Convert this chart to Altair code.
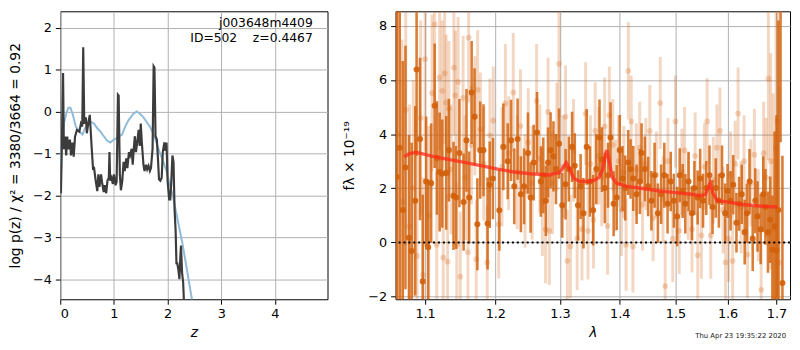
import altair as alt
import pandas as pd

# ---------------- left panel: log p(z) ----------------
pz_z = [0.000, 0.012, 0.030, 0.052, 0.067, 0.090, 0.110, 0.130, 0.150, 0.180,
        0.200, 0.226, 0.250, 0.275, 0.310, 0.355, 0.385, 0.410, 0.428, 0.447,
        0.477, 0.495, 0.520, 0.550, 0.580, 0.610, 0.630, 0.660, 0.690, 0.710,
        0.730, 0.760, 0.780, 0.810, 0.830, 0.856, 0.880, 0.905, 0.917, 0.930,
        0.955, 0.980, 1.000, 1.030, 1.050, 1.075, 1.088, 1.110, 1.130, 1.156,
        1.180, 1.200, 1.230, 1.250, 1.280, 1.300, 1.330, 1.350, 1.370, 1.390,
        1.410, 1.440, 1.460, 1.480, 1.500, 1.520, 1.550, 1.570, 1.600, 1.620,
        1.645, 1.670, 1.690, 1.720, 1.740, 1.755, 1.775, 1.800, 1.820, 1.840,
        1.865, 1.890, 1.910, 1.940, 1.960, 1.980, 2.000, 2.030, 2.050, 2.070,
        2.090, 2.110, 2.130, 2.150, 2.165, 2.180, 2.200, 2.220, 2.240, 2.250,
        2.270, 2.290, 2.310]
pz_logp = [-1.75, -1.95, -0.80, 0.92, -0.90, -0.60, -1.05, -0.60, -0.90, -0.67,
           -1.05, -0.74, -1.08, -0.60, -0.44, -0.48, -0.29, -0.36, 1.53, -0.29,
           -0.14, -0.52, -0.29, -0.08, -0.75, -1.36, -1.35, -1.65, -1.90, -1.50,
           -1.80, -1.50, -1.70, -1.92, -1.76, -1.95, -1.65, -1.58, -0.97, -1.65,
           -1.58, -1.73, -1.50, -1.76, -1.68, 0.40, 0.38, -1.50, -1.88, -1.65,
           -1.20, -1.42, -1.12, -1.35, -0.97, -1.05, -0.89, -1.27, -0.89, -0.59,
           -0.97, -0.67, -0.44, -0.82, -0.29, -0.74, -1.27, -1.42, -1.27, -1.38,
           -1.30, -1.42, -1.35, -0.89, 1.08, 1.05, -0.59, -0.67, -1.12, -1.62,
           -1.65, -1.58, -0.97, -0.74, -0.94, -0.74, -1.65, -2.10, -2.10, -1.65,
           -1.05, -1.20, -2.33, -2.86, -3.62, -3.62, -3.77, -4.00, -3.40, -3.20,
           -3.85, -4.08, -4.70]

prior_z = [0.0, 0.03, 0.067, 0.11, 0.15, 0.19, 0.23, 0.29, 0.355, 0.416,
           0.46, 0.51, 0.57, 0.63, 0.69, 0.75, 0.81, 0.875, 0.935, 1.0,
           1.06, 1.15, 1.21, 1.27, 1.36, 1.425, 1.49, 1.55, 1.61, 1.67,
           1.73, 1.79, 1.85, 1.91, 1.98, 2.04, 2.1, 2.16, 2.22, 2.28,
           2.34, 2.4, 2.47]
prior_logp = [-1.27, -0.74, -0.29, -0.06, 0.09, 0.09, -0.06, -0.36, -0.48, -0.55,
              -0.4, -0.36, -0.25, -0.29, -0.4, -0.48, -0.59, -0.7, -0.74, -0.67,
              -0.63, -0.55, -0.36, -0.21, -0.06, 0.0, -0.06, -0.14, -0.25, -0.36,
              -0.52, -0.74, -0.97, -1.16, -1.42, -1.73, -2.03, -2.41, -2.79, -3.17,
              -3.62, -4.08, -4.6]

left_ticks_x = [0, 1, 2, 3, 4]
left_ticks_y = [-4, -3, -2, -1, 0, 1, 2]
annot_line1 = "j003648m4409"
annot_line2 = "ID=502\u00a0\u00a0\u00a0\u00a0z=0.4467"

# ---------------- right panel: spectrum ----------------
dark_wave = [1.0621, 1.0660, 1.0700, 1.0736, 1.0783, 1.0819, 1.0867, 1.0885, 1.0931, 1.0968,
             1.1014, 1.1042, 1.1083, 1.1131, 1.1163, 1.1200, 1.1236, 1.1292, 1.1329, 1.1394,
             1.1431, 1.1478, 1.1538, 1.1579, 1.1617, 1.1653, 1.1695, 1.1736, 1.1778, 1.1825,
             1.1885, 1.1917, 1.1964, 1.2060, 1.2120, 1.2186, 1.2236, 1.2285, 1.2336, 1.2386,
             1.2435, 1.2495, 1.2536, 1.2585, 1.2636, 1.2696, 1.2735, 1.2776, 1.2810, 1.2850,
             1.2896, 1.2936, 1.2985, 1.3037, 1.3091, 1.3144, 1.3197, 1.3241, 1.3294, 1.3337,
             1.3385, 1.3438, 1.3492, 1.3546, 1.3599, 1.3653, 1.3695, 1.3743, 1.3798, 1.3840,
             1.3894, 1.3947, 1.4000, 1.4048, 1.4095, 1.4148, 1.4189, 1.4236, 1.4295, 1.4353,
             1.4383, 1.4441, 1.4501, 1.4559, 1.4617, 1.4677, 1.4736, 1.4794, 1.4854, 1.4912,
             1.4970, 1.5031, 1.5079, 1.5134, 1.5184, 1.5245, 1.5308, 1.5356, 1.5418, 1.5466,
             1.5521, 1.5584, 1.5645, 1.5705, 1.5768, 1.5829, 1.5890, 1.5952, 1.6000, 1.6059,
             1.6112, 1.6177, 1.6230, 1.6283, 1.6343, 1.6388, 1.6441, 1.6506, 1.6559, 1.6605,
             1.6670, 1.6723, 1.6768, 1.6821, 1.6867, 1.6914, 1.6960, 1.7000, 1.7040, 1.7085,
             1.7125]
dark_flux = [2.42, 3.5, 1.2, 2.77, 0.17, -0.32, 1.54, 6.39, 3.82, -1.44,
             2.25, -0.18, 2.19, 5.05, 3.12, 2.6, 2.54, 2.57, 3.41, 1.72,
             1.66, 3.3, 1.49, 3.77, 1.66, 5.54, 4.64, 0.67, 3.41, 3.41,
             0.7, 2.13, 2.36, 1.19, 3.53, 3.0, 3.77, 2.07, 3.82, 1.78,
             2.07, 3.3, 1.66, 2.95, 4.06, 2.25, 2.48, 1.54, 2.95, 3.41,
             3.18, 2.71, 3.65, 1.37, 2.15, 2.71, 3.53, 2.83, 1.37, 2.07,
             1.08, 3.53, 2.25, 1.19, 2.71, 3.88, 3.06, 2.01, 2.48, 3.88,
             1.43, 1.66, 3.41, 2.36, 2.01, 2.95, 2.71, 2.36, 1.78, 2.25,
             3.3, 2.71, 2.07, 1.54, 2.48, 1.08, 1.78, 2.48, 1.43, 2.25,
             1.54, 0.96, 2.48, 1.9, 1.43, 2.25, 1.08, 2.01, 1.66, 2.36,
             1.54, 2.01, 2.48, 1.31, 2.01, 1.54, 2.48, 1.08, 1.9, 1.54,
             2.13, 0.73, 1.43, 1.78, 0.38, 1.08, 2.25, 0.14, 1.54, 0.96,
             0.49, 1.78, 1.31, 0.38, 0.84, -0.27, 0.6, -0.3, 1.2, 9.5,
             -1.5]
dark_err = [8.0, 6.5, 5.5, 4.5, 3.8, 4.0, 3.5, 3.2, 3.0, 3.2,
            2.4, 2.5, 2.2, 2.3, 2.1, 2.2, 2.0, 2.1, 1.9, 2.0,
            1.9, 2.0, 1.8, 1.9, 1.7, 1.9, 1.8, 1.7, 1.8, 1.7,
            1.7, 1.6, 1.5, 1.5, 1.6, 1.4, 1.5, 1.4, 1.5, 1.4,
            1.4, 1.5, 1.3, 1.4, 1.5, 1.3, 1.4, 1.3, 1.3, 1.4,
            1.3, 1.3, 1.3, 1.2, 1.3, 1.2, 1.3, 1.2, 1.3, 1.2,
            1.3, 1.4, 1.3, 1.3, 1.3, 1.4, 1.2, 1.3, 1.2, 1.3,
            1.2, 1.2, 1.3, 1.2, 1.2, 1.2, 1.1, 1.2, 1.1, 1.2,
            1.1, 1.2, 1.1, 1.1, 1.2, 1.1, 1.1, 1.2, 1.1, 1.1,
            1.0, 1.1, 1.0, 1.0, 1.1, 1.1, 1.0, 1.0, 1.0, 1.1,
            1.0, 1.0, 1.1, 1.0, 1.1, 1.0, 1.1, 1.1, 1.0, 1.1,
            1.1, 1.1, 1.0, 1.1, 1.2, 1.1, 1.2, 1.2, 1.2, 1.3,
            1.3, 1.4, 1.4, 1.5, 1.6, 2.0, 3.5, 5.0, 7.0, 5.8,
            4.7]

light_wave = [1.0640, 1.0690, 1.0740, 1.0790, 1.0840, 1.0890, 1.0940, 1.0975, 1.1000, 1.1050,
              1.1095, 1.1130, 1.1160, 1.1200, 1.1236, 1.1250, 1.1270, 1.1290, 1.1310, 1.1330,
              1.1360, 1.1400, 1.1420, 1.1440, 1.1460, 1.1490, 1.1530, 1.1560, 1.1600, 1.1610,
              1.1650, 1.1700, 1.1720, 1.1740, 1.1780, 1.1830, 1.1880, 1.1920, 1.1970, 1.2050,
              1.2100, 1.2150, 1.2200, 1.2270, 1.2330, 1.2380, 1.2450, 1.2500, 1.2560, 1.2630,
              1.2680, 1.2720, 1.2770, 1.2810, 1.2830, 1.2880, 1.2950, 1.2985, 1.3050, 1.3090,
              1.3120, 1.3170, 1.3220, 1.3280, 1.3360, 1.3420, 1.3460, 1.3500, 1.3550, 1.3580,
              1.3640, 1.3690, 1.3740, 1.3790, 1.3820, 1.3880, 1.3930, 1.3980, 1.4030, 1.4070,
              1.4110, 1.4150, 1.4200, 1.4230, 1.4290, 1.4350, 1.4400, 1.4460, 1.4530, 1.4590,
              1.4650, 1.4720, 1.4770, 1.4810, 1.4860, 1.4950, 1.5000, 1.5070, 1.5120, 1.5170,
              1.5240, 1.5310, 1.5370, 1.5420, 1.5490, 1.5550, 1.5600, 1.5670, 1.5720, 1.5790,
              1.5850, 1.5910, 1.5960, 1.6020, 1.6060, 1.6100, 1.6150, 1.6210, 1.6270, 1.6330,
              1.6400, 1.6470, 1.6540, 1.6620, 1.6680, 1.6730, 1.6780, 1.6830, 1.6880, 1.6930,
              1.6990, 1.7020, 1.7050]
light_flux = [4.0, 1.5, 4.9, 0.6, 2.0, -0.5, 4.6, -1.2, 6.77, 1.0,
              5.52, 8.06, -0.09, 6.1, 5.6, -0.56, 6.25, 5.17, -0.71, 4.94,
              2.7, 6.46, 5.43, -0.09, 5.93, -1.26, 5.34, 2.4, -0.36, 7.57,
              3.6, 4.68, -0.62, 5.64, 4.18, 2.9, -0.74, 3.96, 4.5, 0.67,
              2.8, 5.13, 3.3, 5.54, 2.6, 4.3, 1.9, 3.7, 2.2, 5.23,
              3.1, 1.5, 0.49, 4.82, 0.43, 2.2, 3.9, 6.6, 2.8, 4.64,
              -0.68, -0.15, 3.4, 0.14, 0.49, 4.76, 0.43, 2.9, 0.84, 4.12,
              3.2, 2.4, 4.29, 0.61, 4.7, 3.6, 2.1, 3.0, 1.2, 2.6,
              -0.09, 6.34, 4.47, -0.15, 2.7, 3.5, 1.4, 2.9, 4.12, 0.9,
              2.5, 5.15, 1.6, -1.61, 3.0, 0.14, 4.47, 0.43, 2.6, 3.4,
              1.7, 0.49, 3.2, -0.47, 0.26, 2.8, 4.47, 0.26, 2.3, 3.5,
              4.12, 1.2, -0.74, 0.14, 2.5, -0.68, 2.9, 4.76, 1.3, 3.0,
              -0.45, 2.2, 3.24, 1.0, -1.75, 3.3, 2.4, 6.05, 3.0, 0.5,
              3.5, 4.47, -0.74]
light_err = [7.0, 6.0, 5.0, 4.5, 4.0, 3.8, 3.6, 3.6, 3.4, 3.3,
             2.9, 2.9, 2.7, 2.7, 2.6, 2.6, 2.6, 2.5, 2.5, 2.5,
             2.4, 2.5, 2.4, 2.3, 2.4, 2.4, 2.3, 2.3, 2.3, 2.4,
             2.2, 2.2, 2.2, 2.2, 2.1, 2.1, 2.1, 2.1, 2.0, 2.0,
             2.2, 2.2, 2.1, 2.2, 2.1, 2.1, 2.1, 2.0, 2.1, 2.1,
             2.0, 2.0, 2.0, 2.0, 2.0, 1.9, 2.0, 2.0, 1.9, 1.9,
             1.9, 1.9, 1.9, 1.9, 1.9, 1.9, 1.8, 1.8, 1.8, 1.8,
             1.8, 1.8, 1.8, 1.8, 1.8, 1.7, 1.7, 1.7, 1.7, 1.7,
             1.7, 1.8, 1.7, 1.7, 1.7, 1.7, 1.7, 1.7, 1.7, 1.6,
             1.6, 1.7, 1.6, 1.7, 1.6, 1.6, 1.7, 1.6, 1.6, 1.6,
             1.6, 1.6, 1.6, 1.6, 1.6, 1.6, 1.6, 1.6, 1.6, 1.6,
             1.6, 1.6, 1.6, 1.6, 1.6, 1.7, 1.6, 1.7, 1.7, 1.7,
             1.6, 1.6, 1.7, 1.7, 1.8, 1.9, 2.2, 3.0, 4.0, 5.0,
             6.0, 6.5, 6.5]

model_wave = [1.072, 1.0783, 1.0875, 1.0968, 1.1107, 1.1339, 1.157, 1.1801, 1.2036, 1.2285,
              1.2536, 1.2786, 1.2835, 1.2885, 1.2985, 1.3037, 1.3101, 1.3144, 1.3225, 1.3332,
              1.3466, 1.3573, 1.3653, 1.3706, 1.3743, 1.3775, 1.3814, 1.3867, 1.3947, 1.4118,
              1.4412, 1.4706, 1.5, 1.5308, 1.5492, 1.5566, 1.5614, 1.5658, 1.5705, 1.5798,
              1.6014, 1.631, 1.6704, 1.702]
model_flux = [3.16, 3.27, 3.33, 3.27, 3.18, 3.06, 2.95, 2.83, 2.71, 2.6,
              2.54, 2.5, 2.48, 2.54, 2.57, 2.71, 2.95, 2.77, 2.36, 2.25,
              2.25, 2.3, 2.42, 2.71, 3.12, 3.41, 3.06, 2.42, 2.19, 2.07,
              1.99, 1.9, 1.84, 1.78, 1.72, 1.78, 2.01, 2.19, 1.84, 1.54,
              1.49, 1.4, 1.34, 1.31]

right_ticks_x = [1.1, 1.2, 1.3, 1.4, 1.5, 1.6, 1.7]
right_ticks_y = [-2, 0, 2, 4, 6, 8]
zero_level = [0]
timestamp = ["Thu Apr 23 19:35:22 2020"]

# ---------------- build ----------------
FONT = "DejaVu Sans"
ORANGE = "#d2600a"
LW, LH = 271, 292
RW, RH = 400, 292

def lx():
    return alt.X("z:Q", scale=alt.Scale(domain=[0, 4.98], nice=False, zero=False),
                 axis=alt.Axis(values=left_ticks_x, format="d", title="z",
                               titleFontStyle="italic", titlePadding=5))

def ly():
    return alt.Y("logp:Q", scale=alt.Scale(domain=[-4.48, 2.39], nice=False, zero=False),
                 axis=alt.Axis(values=left_ticks_y, format="d",
                               title="log p(z) / χ² = 3380/3664 = 0.92", titlePadding=10))

df_pz = pd.DataFrame({"z": pz_z, "logp": pz_logp})
df_prior = pd.DataFrame({"z": prior_z, "logp": prior_logp})

prior_line = alt.Chart(df_prior).mark_line(color="#8fbbd9", strokeWidth=2, clip=True).encode(x=lx(), y=ly())
pz_line = alt.Chart(df_pz).mark_line(color="#3c3c3c", strokeWidth=2.2, clip=True).encode(x=lx(), y=ly())
ann1 = alt.Chart(pd.DataFrame({"t": [annot_line1]})).mark_text(
    align="right", baseline="alphabetic", fontSize=12.5, font=FONT, color="black"
).encode(x=alt.value(256), y=alt.value(16), text="t:N")
ann2 = alt.Chart(pd.DataFrame({"t": [annot_line2]})).mark_text(
    align="right", baseline="alphabetic", fontSize=12.5, font=FONT, color="black"
).encode(x=alt.value(256), y=alt.value(31), text="t:N")

left = alt.layer(prior_line, pz_line, ann1, ann2).properties(width=LW, height=LH)

xscale_r = alt.Scale(type="log", domain=[1.0605, 1.7287], nice=False, zero=False)
yscale_r = alt.Scale(domain=[-2.1, 8.54], nice=False, zero=False)

def rx():
    return alt.X("wave:Q", scale=xscale_r,
                 axis=alt.Axis(values=right_ticks_x, format=".1f", title="λ",
                               titleFontStyle="italic", titlePadding=5))

def ry(field):
    return alt.Y(field, scale=yscale_r,
                 axis=alt.Axis(values=right_ticks_y, format="d",
                               title="fλ × 10⁻¹⁹", titlePadding=11))

df_dark = pd.DataFrame({"wave": dark_wave, "flux": dark_flux, "err": dark_err})
df_light = pd.DataFrame({"wave": light_wave, "flux": light_flux, "err": light_err})
df_model = pd.DataFrame({"wave": model_wave, "flux": model_flux})

def bars(df, opacity, width):
    return alt.Chart(df).transform_calculate(
        lo="datum.flux - datum.err", hi="datum.flux + datum.err"
    ).mark_rule(color=ORANGE, opacity=opacity, strokeWidth=width, clip=True).encode(
        x=rx(), y=ry("lo:Q"), y2="hi:Q")

def dots(df, opacity, size):
    return alt.Chart(df).mark_circle(color=ORANGE, opacity=opacity, size=size, clip=True).encode(
        x=rx(), y=ry("flux:Q"))

zero_line = alt.Chart(pd.DataFrame({"flux": zero_level})).mark_rule(
    color="black", strokeDash=[2, 3], strokeWidth=2).encode(y=ry("flux:Q"))

model_line = alt.Chart(df_model).mark_line(color="#ff2a1a", opacity=0.75, strokeWidth=3.5, clip=True).encode(
    x=rx(), y=ry("flux:Q"))

stamp = alt.Chart(pd.DataFrame({"t": timestamp})).mark_text(
    align="right", baseline="alphabetic", fontSize=7, font=FONT, color="#222222"
).encode(x=alt.value(RW - 4), y=alt.value(331), text="t:N")

right = alt.layer(
    bars(df_light, 0.25, 3), dots(df_light, 0.25, 34),
    bars(df_dark, 0.82, 2.6), dots(df_dark, 0.9, 38),
    zero_line, model_line, stamp
).properties(width=RW, height=RH)

chart = alt.hconcat(left, right, spacing=14).properties(
    padding={"left": 0, "top": 0, "right": 0, "bottom": 0}
).configure_view(
    stroke="black", strokeWidth=1
).configure_axis(
    grid=True, gridColor="#b0b0b0", gridWidth=1, domain=False,
    tickColor="black", tickSize=5, labelFontSize=13, labelColor="black",
    labelPadding=4, labelFont=FONT, titleFont=FONT, titleFontSize=14,
    titleColor="black", titleFontWeight="normal"
)

chart.save("out.html", embed_options={"renderer": "svg", "actions": False})
